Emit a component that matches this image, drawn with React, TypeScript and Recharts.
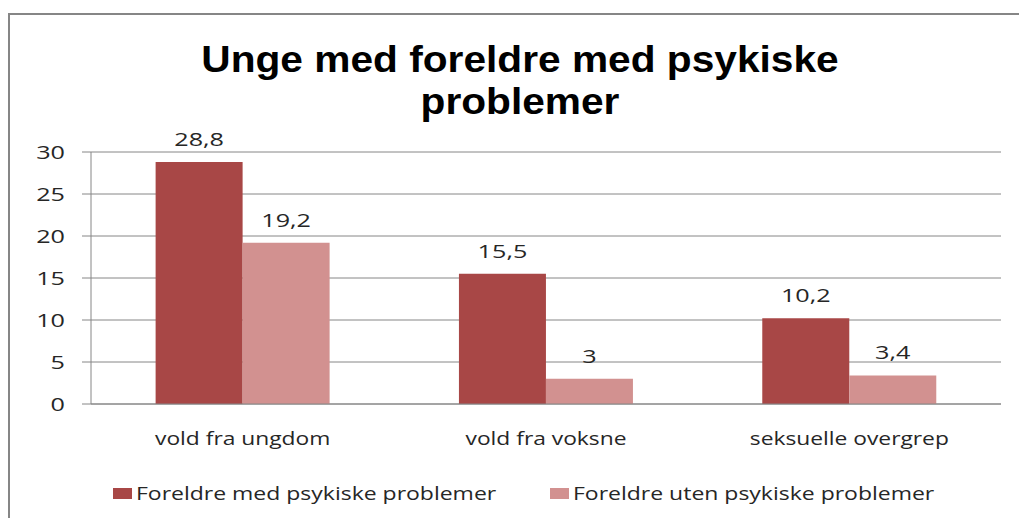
import React from "react";
import {
  BarChart,
  Bar,
  XAxis,
  YAxis,
  CartesianGrid,
  Legend,
  LabelList,
} from "recharts";

const CATEGORIES = ["vold fra ungdom", "vold fra voksne", "seksuelle overgrep"];
const WITH_PROBLEMS = [28.8, 15.5, 10.2];
const WITHOUT_PROBLEMS = [19.2, 3, 3.4];
const SERIES_NAMES = [
  "Foreldre med psykiske problemer",
  "Foreldre uten psykiske problemer",
];
const Y_TICKS = [0, 5, 10, 15, 20, 25, 30];
const EDGE_TICKS = [0, 1, 2, 3];
const TITLE_LINES = ["Unge med foreldre med psykiske", "problemer"];

const COLORS = ["#A84746", "#D29190"];
const GRID = "#868686";
const TEXT = "#262626";
const FONT = "'Open Sans', 'Noto Sans', sans-serif";
const TITLE_FONT = "'Liberation Sans', Arial, sans-serif";

const data = CATEGORIES.map((category, i) => ({
  category,
  med: WITH_PROBLEMS[i],
  uten: WITHOUT_PROBLEMS[i],
}));

const fmt = (v: number) => String(v).replace(".", ",");

// stretched svg text, the source image was widened horizontally
function Wide({ x, y, sx, anchor, size, children }: any) {
  return (
    <text
      transform={`translate(${x},${y}) scale(${sx},1)`}
      textAnchor={anchor}
      fontFamily={FONT}
      fontSize={size}
      fill={TEXT}
    >
      {children}
    </text>
  );
}

function YTick({ x, y, payload }: any) {
  return (
    <Wide x={x} y={y + 6.5} sx={1.4} anchor="end" size={18}>
      {payload.value}
    </Wide>
  );
}

function XTick({ x, y, payload }: any) {
  return (
    <Wide x={x} y={y + 41} sx={1.2} anchor="middle" size={19}>
      {payload.value}
    </Wide>
  );
}

function BarValue({ x, y, width, value }: any) {
  return (
    <Wide x={x + width / 2} y={y - 16} sx={1.4} anchor="middle" size={18}>
      {fmt(value)}
    </Wide>
  );
}

const LEGEND_X = [113, 550];

function ChartLegend({ payload }: any) {
  return (
    <svg width={1019} height={40} style={{ display: "block" }}>
      {payload?.map((entry: any, i: number) => (
        <g key={i}>
          <rect x={LEGEND_X[i]} y={19} width={19} height={11} fill={entry.color} />
          <Wide x={LEGEND_X[i] + 23} y={31} sx={1.21} anchor="start" size={19}>
            {entry.value}
          </Wide>
        </g>
      ))}
    </svg>
  );
}

export default function App() {
  return (
    <div
      style={{
        position: "absolute",
        left: 0,
        top: 0,
        width: 1019,
        height: 518,
        background: "#fff",
        overflow: "hidden",
      }}
    >
      <div
        style={{
          position: "absolute",
          left: 8,
          top: 13,
          width: 1100,
          height: 600,
          borderLeft: `2px solid ${GRID}`,
          borderTop: `2px solid ${GRID}`,
        }}
      />
      <svg
        width={1019}
        height={130}
        style={{ position: "absolute", left: 0, top: 0 }}
      >
        {TITLE_LINES.map((line, i) => (
          <text
            key={i}
            transform={`translate(520,${72 + i * 42}) scale(1.085,1)`}
            textAnchor="middle"
            fontFamily={TITLE_FONT}
            fontWeight="bold"
            fontSize={37.5}
            fill="#000"
          >
            {line}
          </text>
        ))}
      </svg>
      <div style={{ position: "absolute", left: 0, top: 0 }}>
        <BarChart
          width={1019}
          height={518}
          data={data}
          margin={{ top: 152, right: 18, left: 0, bottom: 9 }}
          barCategoryGap="21.3%"
          barGap={0}
        >
          <CartesianGrid vertical={false} stroke={GRID} strokeWidth={1} />
          <XAxis
            xAxisId="edges"
            type="number"
            domain={[0, 3]}
            ticks={EDGE_TICKS}
            tick={false}
            tickSize={8}
            tickLine={{ stroke: GRID }}
            axisLine={false}
            height={0}
          />
          <XAxis
            xAxisId="cat"
            dataKey="category"
            height={65}
            tickLine={false}
            tickSize={0}
            tickMargin={0}
            axisLine={{ stroke: GRID }}
            tick={<XTick />}
            interval={0}
          />
          <YAxis
            domain={[0, 30]}
            ticks={Y_TICKS}
            width={91}
            tickSize={9}
            tickMargin={17}
            tickLine={{ stroke: GRID }}
            axisLine={{ stroke: GRID }}
            tick={<YTick />}
          />
          <Legend
            verticalAlign="bottom"
            content={<ChartLegend />}
            wrapperStyle={{ height: 40 }}
          />
          <Bar
            xAxisId="cat"
            dataKey="med"
            name={SERIES_NAMES[0]}
            fill={COLORS[0]}
            isAnimationActive={false}
          >
            <LabelList dataKey="med" content={<BarValue />} />
          </Bar>
          <Bar
            xAxisId="cat"
            dataKey="uten"
            name={SERIES_NAMES[1]}
            fill={COLORS[1]}
            isAnimationActive={false}
          >
            <LabelList dataKey="uten" content={<BarValue />} />
          </Bar>
        </BarChart>
      </div>
    </div>
  );
}
